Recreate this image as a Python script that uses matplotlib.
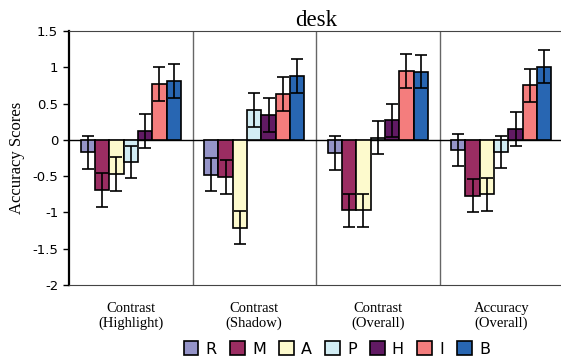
import numpy as np
import matplotlib
matplotlib.use("Agg")
from matplotlib import pyplot as plt

plt.rcParams['axes.unicode_minus'] = False

categories = ['Contrast\n(Highlight)', 'Contrast\n(Shadow)', 'Contrast\n(Overall)', 'Accuracy\n(Overall)']
series = ['R', 'M', 'A', 'P', 'H', 'I', 'B']
colors = ['#9594c8', '#9b2d62', '#fdfacd', '#d2edf4', '#611a63', '#f47d7d', '#2866b2']

# values per series, one per category
R = [-0.17, -0.48, -0.18, -0.14]
M = [-0.69, -0.51, -0.97, -0.77]
A = [-0.47, -1.21, -0.97, -0.75]
P = [-0.30, 0.41, 0.03, -0.17]
H = [0.12, 0.34, 0.27, 0.15]
I = [0.77, 0.63, 0.95, 0.75]
B = [0.81, 0.88, 0.94, 1.01]
values = [R, M, A, P, H, I, B]

R_err = [0.23, 0.23, 0.23, 0.22]
M_err = [0.23, 0.23, 0.23, 0.23]
A_err = [0.23, 0.23, 0.23, 0.23]
P_err = [0.22, 0.23, 0.23, 0.22]
H_err = [0.23, 0.23, 0.23, 0.23]
I_err = [0.23, 0.23, 0.23, 0.23]
B_err = [0.23, 0.23, 0.23, 0.23]
errors = [R_err, M_err, A_err, P_err, H_err, I_err, B_err]

fig = plt.figure(figsize=(5.61, 3.62), dpi=100)
ax = fig.add_axes([69 / 561, 1 - 285 / 362, 494 / 561, 254 / 362])

x = np.arange(len(categories))
w = 0.116
for i, (name, vals, errs, c) in enumerate(zip(series, values, errors, colors)):
    ax.bar(x + (i - 3) * w, vals, w, color=c, edgecolor='black', linewidth=1.2,
           label=name, zorder=3)
    ax.errorbar(x + (i - 3) * w, vals, yerr=errs, fmt='none', ecolor='black',
                elinewidth=1.2, capsize=4, capthick=1.2, zorder=4)

ax.axhline(0, color='black', lw=1, zorder=2)
for sep in [0.5, 1.5, 2.5]:
    ax.axvline(sep, color='#666666', lw=1, zorder=1)

ax.set_xlim(-0.5, 3.5)
ax.set_ylim(-2, 1.5)
ax.set_yticks(np.arange(-2, 1.51, 0.5))
ax.set_yticklabels(['-2', '-1.5', '-1', '-0.5', '0', '0.5', '1', '1.5'],
                   family='DejaVu Sans', fontsize=9.5)
ax.tick_params(axis='y', direction='out', length=4.3, width=1, pad=3.5)
ax.set_xticks(x)
ax.set_xticklabels(categories, family='Liberation Serif', fontsize=10.5, linespacing=1.15)
ax.tick_params(axis='x', length=0, pad=12)

for s in ['top', 'right', 'bottom']:
    ax.spines[s].set_color('#444444')
ax.spines['left'].set_linewidth(1.6)

ax.set_ylabel('Accuracy Scores', family='Liberation Serif', fontsize=12, labelpad=5)
ax.set_title('desk', family='Liberation Serif', fontsize=16.5, pad=1)

fig.legend(loc='center', bbox_to_anchor=(337 / 561, 1 - 349 / 362), ncol=7,
           frameon=False, prop={'family': 'DejaVu Sans', 'size': 11.5},
           handlelength=0.9, handleheight=0.9, handletextpad=0.45,
           columnspacing=0.85, borderpad=0)

fig.savefig('out.png', dpi=100)
